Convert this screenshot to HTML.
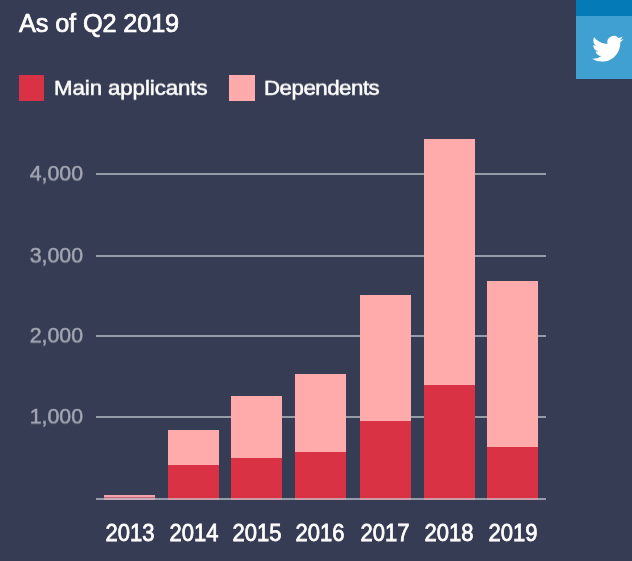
<!DOCTYPE html>
<html>
<head>
<meta charset="utf-8">
<style>
html,body{margin:0;padding:0;}
body{width:632px;height:561px;overflow:hidden;background:#363c53;font-family:"Liberation Sans",sans-serif;position:relative;}
.abs{position:absolute;white-space:nowrap;line-height:1;will-change:transform;}
.title{left:18.7px;top:10px;letter-spacing:-0.13px;font-size:25.3px;color:#fff;-webkit-text-stroke:0.7px #fff;transform:scaleY(1.04);transform-origin:0 0;}
.leg{font-size:22.3px;color:#fff;-webkit-text-stroke:0.55px #fff;transform:scaleY(0.935);transform-origin:0 0;}
.sq{position:absolute;width:25.5px;height:26.3px;top:75.1px;}
.ylab{font-size:21.3px;color:#a3a7b3;-webkit-text-stroke:0.5px #a3a7b3;text-align:right;width:60px;left:22.8px;transform:scaleY(0.97);transform-origin:0 0;}
.grid{position:absolute;left:96.2px;width:449.5px;height:2px;background:#939da7;}
.bar{position:absolute;width:51px;}
.p{background:#ffabab;}
.r{background:#da3245;}
.xlab{font-size:22px;color:#fff;width:64px;text-align:center;top:520.5px;-webkit-text-stroke:0.7px #fff;transform:scaleY(1.115);transform-origin:0 0;}
</style>
</head>
<body>
<div class="abs title">As of Q2 2019</div>

<div class="sq r" style="left:18.5px"></div>
<div class="abs leg" style="left:53.5px;top:78.3px;letter-spacing:-0.1px">Main applicants</div>
<div class="sq p" style="left:229px"></div>
<div class="abs leg" style="left:263.8px;top:78.3px;letter-spacing:-0.5px">Dependents</div>

<div style="position:absolute;left:576.3px;top:0;width:56px;height:15.6px;background:#047ab7"></div>
<div style="position:absolute;left:576.3px;top:15.6px;width:56px;height:63.5px;background:#40a0d1"></div>
<svg style="position:absolute;left:592.3px;top:33px" width="31.5" height="31.5" viewBox="0 0 24 24"><path fill="#fff" d="M23.953 4.57a10 10 0 01-2.825.775 4.958 4.958 0 002.163-2.723c-.951.555-2.005.959-3.127 1.184a4.92 4.92 0 00-8.384 4.482C7.69 8.095 4.067 6.13 1.64 3.162a4.822 4.822 0 00-.666 2.475c0 1.71.87 3.213 2.188 4.096a4.904 4.904 0 01-2.228-.616v.06a4.923 4.923 0 003.946 4.827 4.996 4.996 0 01-2.212.085 4.936 4.936 0 004.604 3.417 9.867 9.867 0 01-6.102 2.105c-.39 0-.779-.023-1.17-.067a13.995 13.995 0 007.557 2.209c9.053 0 13.998-7.496 13.998-13.985 0-.21 0-.42-.015-.63A9.935 9.935 0 0024 4.59z"/></svg>

<div class="grid" style="top:172.90px"></div>
<div class="grid" style="top:254.95px"></div>
<div class="grid" style="top:334.9px"></div>
<div class="grid" style="top:416.05px"></div>

<div class="abs ylab" style="top:163.80px">4,000</div>
<div class="abs ylab" style="top:245.75px">3,000</div>
<div class="abs ylab" style="top:326.1px">2,000</div>
<div class="abs ylab" style="top:407.0px">1,000</div>

<!-- bars -->
<div class="bar" style="left:103.9px;width:51px;top:495.2px;height:1.6px;background:#eea3ad"></div>
<div class="bar" style="left:103.9px;width:51px;top:496.8px;height:3.1px;background:#c9667a"></div>
<div class="bar p" style="left:167.9px;width:51.3px;top:430.0px;height:35.0px"></div>
<div class="bar r" style="left:167.9px;width:51.3px;top:465.0px;height:34.9px"></div>
<div class="bar p" style="left:231.0px;width:51.2px;top:395.5px;height:62.0px"></div>
<div class="bar r" style="left:231.0px;width:51.2px;top:457.5px;height:42.4px"></div>
<div class="bar p" style="left:294.9px;width:51.2px;top:373.7px;height:78.3px"></div>
<div class="bar r" style="left:294.9px;width:51.2px;top:452.0px;height:47.9px"></div>
<div class="bar p" style="left:359.9px;width:51.2px;top:295.4px;height:125.6px"></div>
<div class="bar r" style="left:359.9px;width:51.2px;top:421.0px;height:78.9px"></div>
<div class="bar p" style="left:424.0px;width:51.3px;top:139.1px;height:245.7px"></div>
<div class="bar r" style="left:424.0px;width:51.3px;top:384.8px;height:115.1px"></div>
<div class="bar p" style="left:486.8px;width:51.6px;top:280.8px;height:165.8px"></div>
<div class="bar r" style="left:486.8px;width:51.6px;top:446.6px;height:53.3px"></div>

<div class="grid" style="top:497.9px;background:rgba(200,210,218,0.65)"></div>

<div class="abs xlab" style="left:97.5px">2013</div>
<div class="abs xlab" style="left:161.6px">2014</div>
<div class="abs xlab" style="left:224.6px">2015</div>
<div class="abs xlab" style="left:287.8px">2016</div>
<div class="abs xlab" style="left:353.2px">2017</div>
<div class="abs xlab" style="left:416.8px">2018</div>
<div class="abs xlab" style="left:480.7px">2019</div>
</body>
</html>
